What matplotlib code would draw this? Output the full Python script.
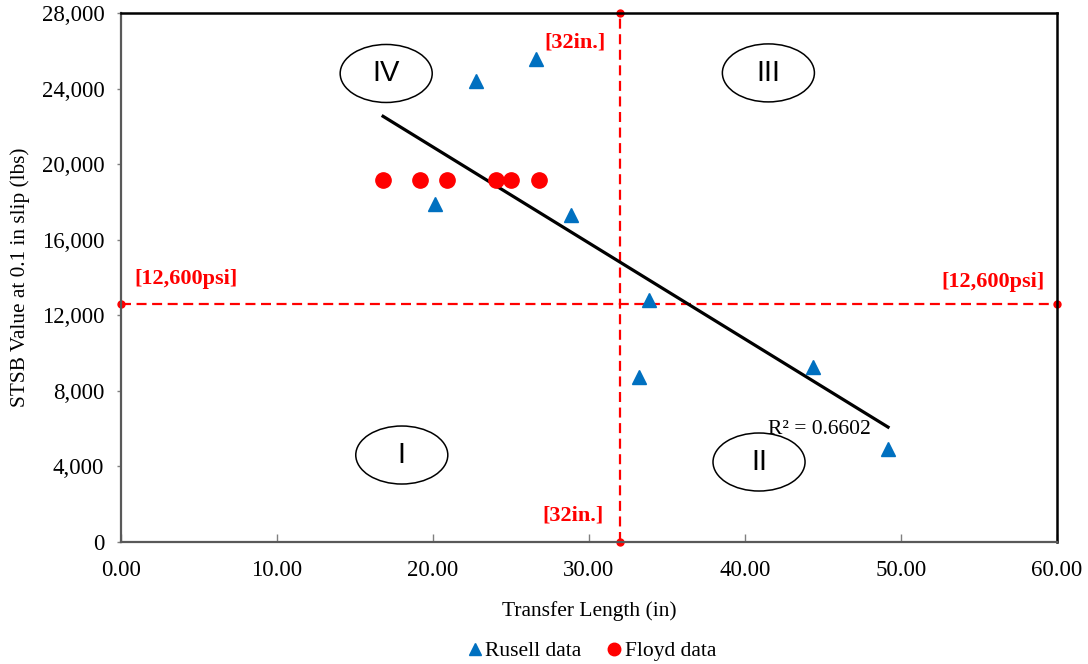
import numpy as np
import matplotlib
matplotlib.use("Agg")
import matplotlib.pyplot as plt
from matplotlib.patches import Ellipse
from matplotlib.lines import Line2D
from matplotlib.ticker import FuncFormatter

plt.rcParams['font.family'] = ['Liberation Serif', 'DejaVu Serif']

# Russell data (transfer length in, STSB value lbs)
russell_x = [22.76, 26.6, 20.1, 28.85, 33.85, 33.2, 44.36, 49.17]
russell_y = [24400, 25570, 17890, 17310, 12810, 8735, 9264, 4923]

# Floyd data
floyd_x = [16.8, 19.17, 20.9, 24.04, 25.0, 26.8]
floyd_y = [19180, 19180, 19180, 19180, 19180, 19180]

# limits
x_limit = 32        # in.
y_limit = 12600     # psi
r2_text = "R² = 0.6602"

quadrants = ['IV', 'III', 'I', 'II']
quad_x = [17.0, 41.5, 18.0, 40.9]
quad_y = [24800, 24830, 4605, 4235]

RED = '#FF0000'
BLUE = '#0070C0'

fig = plt.figure(figsize=(10.88, 6.64), dpi=100)
ax = fig.add_axes([0.1112, 0.1837, 0.8603, 0.7967])

# linear trend on all data
all_x = np.array(russell_x + floyd_x)
all_y = np.array(russell_y + floyd_y)
slope, icept = np.polyfit(all_x, all_y, 1)
xf = np.array([all_x.min(), all_x.max()])
ax.plot(xf, slope * xf + icept, color='black', lw=2.3, zorder=3)

# reference lines
ax.plot([x_limit, x_limit], [0, 28000], color=RED, lw=1.6, dashes=(4.5, 2.5),
        marker='o', markersize=5, clip_on=False, zorder=2)
ax.plot([0, 60], [y_limit, y_limit], color=RED, lw=1.6, dashes=(4.5, 2.5),
        marker='o', markersize=5, clip_on=False, zorder=2)

ax.plot(russell_x, russell_y, '^', color=BLUE, markersize=10.5, ls='none', zorder=4)
ax.plot(floyd_x, floyd_y, 'o', color=RED, markersize=11, ls='none', zorder=4)

# quadrant ellipses
for lab, qx, qy in zip(quadrants, quad_x, quad_y):
    ax.add_patch(Ellipse((qx, qy), 5.9, 3070, facecolor='white',
                         edgecolor='black', lw=1.1, zorder=1))
    ax.text(qx, qy, lab, ha='center', va='center', fontsize=21,
            family=['Liberation Sans', 'DejaVu Sans'], zorder=1)

# red labels
lab_kw = dict(color=RED, fontsize=16, fontweight='bold', ha='center', va='center')
ax.text(29.1, 26415, '[32in.]', **lab_kw)
ax.text(29.0, 1430, '[32in.]', **lab_kw)
ax.text(4.17, 13920, '[12,600psi]', **lab_kw)
ax.text(55.9, 13760, '[12,600psi]', **lab_kw)

ax.text(44.8, 5980, r2_text, ha='center', va='center', fontsize=15.5, zorder=5)

ax.set_xlim(0, 60)
ax.set_ylim(0, 28000)
ax.set_xticks(np.arange(0, 61, 10))
ax.set_yticks(np.arange(0, 28001, 4000))
ax.xaxis.set_major_formatter(FuncFormatter(lambda v, p: f'{v:.2f}'))
ax.yaxis.set_major_formatter(FuncFormatter(lambda v, p: f'{v:,.0f}'))
ax.tick_params(axis='x', direction='in', length=6, width=1, colors='#808080',
               labelcolor='black', labelsize=16.5, pad=13)
ax.tick_params(axis='y', direction='out', length=3, width=1, colors='#808080',
               labelcolor='black', labelsize=16.5, pad=9)

for s in ['left', 'bottom']:
    ax.spines[s].set_color('#595959')
    ax.spines[s].set_linewidth(1.6)
for s in ['top', 'right']:
    ax.spines[s].set_color('black')
    ax.spines[s].set_linewidth(1.8)

ax.set_xlabel('Transfer Length (in)', fontsize=15.5)
ax.xaxis.set_label_coords(0.5, -0.112)
ax.set_ylabel('STSB Value at 0.1 in slip (lbs)', fontsize=15.3)
ax.yaxis.set_label_coords(-0.097, 0.5)

handles = [Line2D([], [], ls='none', marker='^', color=BLUE, markersize=9),
           Line2D([], [], ls='none', marker='o', color=RED, markersize=9)]
fig.legend(handles, ['Rusell data', 'Floyd data'], loc='center',
           bbox_to_anchor=(590 / 1088, 1 - 651 / 664), ncol=2, frameon=False,
           fontsize=15.5, handletextpad=0.0, columnspacing=1.0, handlelength=1.0)

fig.savefig('out.png', dpi=100)
